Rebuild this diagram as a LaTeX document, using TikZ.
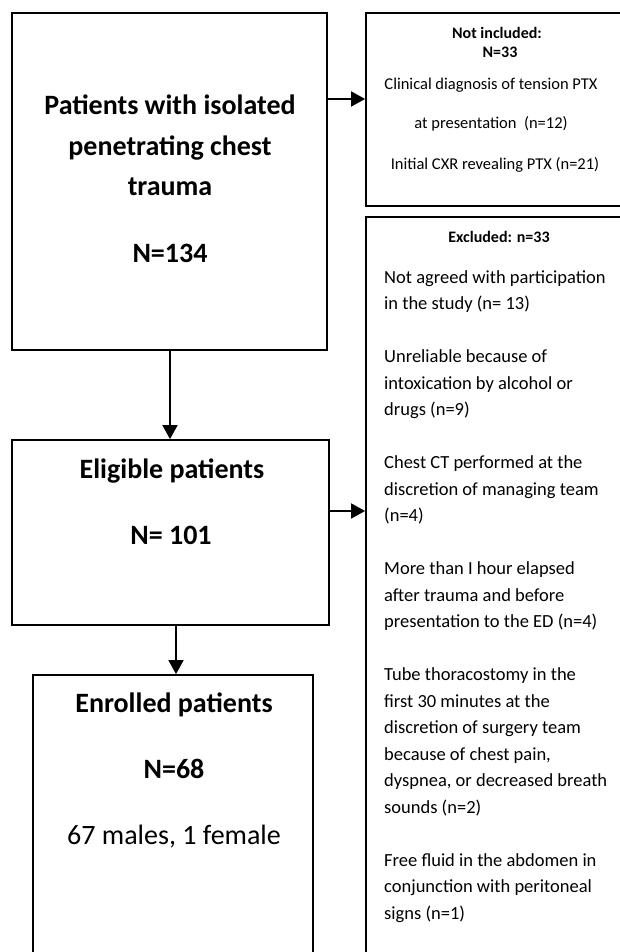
\documentclass[tikz,border=0pt]{standalone}
\usepackage{fontspec}
\setmainfont{Carlito}
\usetikzlibrary{arrows.meta}
\begin{document}
\begin{tikzpicture}[x=1pt,y=-1pt,
  box/.style={draw,line width=1.8pt,rectangle,inner sep=0pt},
  arr/.style={line width=1.8pt,-{Triangle[length=14pt,width=15pt]}},
  big/.style={font=\fontsize{28}{34}\selectfont\bfseries,anchor=base,inner sep=0pt},
  bigreg/.style={font=\fontsize{28}{34}\selectfont,anchor=base,inner sep=0pt},
  smalltitle/.style={font=\fontsize{16}{19}\selectfont\bfseries,anchor=base,inner sep=0pt},
  smallbody/.style={font=\fontsize{16.5}{20}\selectfont,anchor=base,inner sep=0pt},
  exline/.style={font=\fontsize{18.5}{22}\selectfont,anchor=base west,inner sep=0pt}]
\useasboundingbox[fill=white] (0,0) rectangle (620,952);
\clip (0,0) rectangle (620,952);
% boxes
\node[box,minimum width=315pt,minimum height=337pt] (b1) at (169.5,181.5) {};
\node[box,minimum width=274pt,minimum height=193pt] (ni) at (503,109.5) {};
\node[box,minimum width=274pt,minimum height=783pt] (ex) at (503,608.5) {};
\node[box,minimum width=317pt,minimum height=185pt] (b2) at (170.5,532.5) {};
\node[box,minimum width=280pt,minimum height=325pt] (b3) at (173,837.5) {};
% arrow levels
\coordinate (r1) at (0,99);
\coordinate (r2) at (0,511);
\coordinate (c1) at (170,0);
\coordinate (c2) at (176,0);
\draw[arr] (b1.east |- r1) -- (ni.west |- r1);
\draw[arr] (b2.east |- r2) -- (ex.west |- r2);
\draw[arr] (b1.south -| c1) -- (b2.north -| c1);
\draw[arr] (b2.south -| c2) -- (b3.north -| c2);
% box 1
\node[big] (t1a) at (170,115) {Patients with isolated};
\node[big] (t1b) at (170,155.5) {penetrating chest};
\node[big] (t1c) at (170,196) {trauma};
\node[big] (t1d) at (170,262) {N=134};
% box 2
\node[big] (t2a) at (172,478) {Eligible patients};
\node[big] (t2b) at (171,544) {N= 101};
% box 3
\node[big] (t3a) at (174,712) {Enrolled patients};
\node[big] (t3b) at (174,778) {N=68};
\node[bigreg] (t3c) at (174,844) {67 males, 1 female};
% not included
\node[smalltitle] (n1) at (497,39) {Not included:};
\node[smalltitle] (n2) at (500,58) {N=33};
\node[smallbody] (n3) at (491,90) {Clinical diagnosis of tension PTX};
\node[smallbody] (n4) at (491,129) {at presentation\ \ (n=12)};
\node[smallbody] (n5) at (495,170) {Initial CXR revealing PTX (n=21)};
% excluded
\node[smalltitle] (e0) at (499,242) {Excluded: n=33};
\foreach \s/\t in {0/{Not agreed with participation},1/{in the study (n= 13)},
  3/{Unreliable because of},4/{intoxication by alcohol or},5/{drugs (n=9)},
  7/{Chest CT performed at the},8/{discretion of managing team},9/{(n=4)},
  11/{More than I hour elapsed},12/{after trauma and before},13/{presentation to the ED (n=4)},
  15/{Tube thoracostomy in the},16/{first 30 minutes at the},17/{discretion of surgery team},
  18/{because of chest pain,},19/{dyspnea, or decreased breath},20/{sounds (n=2)},
  22/{Free fluid in the abdomen in},23/{conjunction with peritoneal},24/{signs (n=1)}}
  \node[exline] (ex\s) at (384,{283+26.5*\s}) {\t};
\end{tikzpicture}
\end{document}
